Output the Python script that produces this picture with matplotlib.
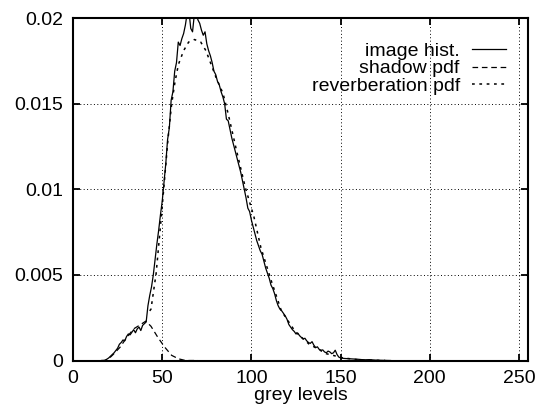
import matplotlib
matplotlib.use('Agg')
import matplotlib.pyplot as plt

plt.rcParams['font.family'] = ['Liberation Sans', 'DejaVu Sans']

# === DATA ===
hist_levels = list(range(16, 151)) + [152, 155, 158, 160, 163, 166, 170, 175, 178]
hist_values = [
    0.0, 0.0, 0.02, 0.08, 0.15, 0.25, 0.35, 0.45, 0.58, 0.72,           # 16-25
    0.95, 1.05, 1.20, 1.15, 1.40, 1.55, 1.50, 1.65, 1.80, 1.62,          # 26-35
    1.85, 1.95, 1.75, 2.05, 2.15, 2.25, 3.20, 3.80, 4.30, 5.00,          # 36-45
    5.90, 6.80, 7.60, 8.50, 9.30, 10.4, 11.5, 12.9, 13.6, 15.2,          # 46-55
    15.7, 16.9, 17.4, 18.6, 18.4, 18.8, 19.1, 19.6, 20.3, 20.4,          # 56-65
    19.4, 19.2, 20.2, 20.5, 19.9, 19.7, 19.3, 19.0, 19.2, 18.5,          # 66-75
    18.1, 17.8, 17.4, 16.9, 16.7, 16.3, 16.1, 15.7, 15.4, 15.0,          # 76-85
    14.1, 14.0, 13.5, 13.0, 12.6, 12.2, 11.8, 11.4, 11.0, 10.5,          # 86-95
    10.0, 9.50, 8.90, 8.70, 8.20, 7.80, 7.40, 7.00, 6.70, 6.40,          # 96-105
    6.20, 5.80, 5.40, 5.10, 4.80, 4.40, 4.20, 3.90, 3.50, 3.20,          # 106-115
    3.00, 2.90, 2.75, 2.60, 2.40, 2.10, 1.95, 1.80, 1.70, 1.55,          # 116-125
    1.60, 1.45, 1.35, 1.25, 1.30, 1.15, 1.05, 1.00, 1.10, 0.90,          # 126-135
    0.75, 0.80, 0.65, 0.60, 0.62, 0.50, 0.45, 0.55, 0.50, 0.40,          # 136-145
    0.45, 0.60, 0.35, 0.20, 0.15,                                        # 146-150
    0.12, 0.10, 0.08, 0.07, 0.04, 0.05, 0.02, 0.01, 0.0,
]
hist_values = [v * 1e-3 for v in hist_values]

shadow_levels = [16, 18, 20, 22.5, 26.4, 30.2, 34, 37.9, 40.8, 43.7, 47.5, 51.4, 55.3, 59.1, 63, 70]
shadow_values = [0.0, 0.0, 0.1, 0.35, 0.78, 1.36, 1.85, 2.10, 2.30, 2.00, 1.36, 0.78, 0.30, 0.10, 0.0, 0.0]
shadow_values = [v * 1e-3 for v in shadow_values]

reverb_levels = [43, 43.7, 46.6, 49.5, 51.4, 53.3, 55.3, 57.2, 59.1, 62, 64.8, 68.1, 71.6,
                 74.5, 77.4, 80.3, 84.1, 87, 91.8, 96.6, 101.4, 105.3, 111, 116.8, 124.5,
                 132.2, 141.9, 151.5, 161, 175]
reverb_values = [2.9, 3.0, 5.1, 8.4, 10.7, 13.0, 15.0, 16.3, 17.3, 18.1, 18.6, 18.75, 18.6,
                 18.1, 17.3, 16.5, 15.6, 14.4, 12.2, 10.1, 8.4, 6.6, 4.7, 2.9, 1.7,
                 0.97, 0.4, 0.15, 0.03, 0.0]
reverb_values = [v * 1e-3 for v in reverb_values]

x_ticks = [0, 50, 100, 150, 200, 250]
y_ticks = [0, 0.005, 0.01, 0.015, 0.02]
y_tick_labels = ['0', '0.005', '0.01', '0.015', '0.02']

# === PLOT ===
fig = plt.figure(figsize=(5.37, 4.12), dpi=100)
ax = fig.add_axes([0.136, 0.125, 0.847, 0.831])

ax.plot(hist_levels, hist_values, color='black', lw=0.9, label='image hist.')
ax.plot(shadow_levels, shadow_values, color='black', lw=0.9,
        linestyle=(0, (4.5, 3)), label='shadow pdf')
ax.plot(reverb_levels, reverb_values, color='black', lw=1.1,
        linestyle=(0, (1.8, 3)), label='reverberation pdf')

ax.set_xlim(0, 255)
ax.set_ylim(0, 0.02)
ax.set_xticks(x_ticks)
ax.set_yticks(y_ticks)
ax.set_yticklabels(y_tick_labels)
ax.grid(True, color='black', linestyle=(0, (1, 2.5)), lw=0.7)
ax.tick_params(direction='in', length=5, width=1.3, labelsize=14,
               top=True, right=True, pad=7)
for s in ax.spines.values():
    s.set_linewidth(1.5)

ax.set_xlabel('grey levels', fontsize=14, labelpad=0)

ax.legend(loc='upper right', bbox_to_anchor=(0.953, 0.93), frameon=False,
          markerfirst=False, fontsize=14, handlelength=1.75, handletextpad=0.65,
          labelspacing=0.0, borderpad=0, borderaxespad=0)

fig.savefig('out.png', dpi=100)
